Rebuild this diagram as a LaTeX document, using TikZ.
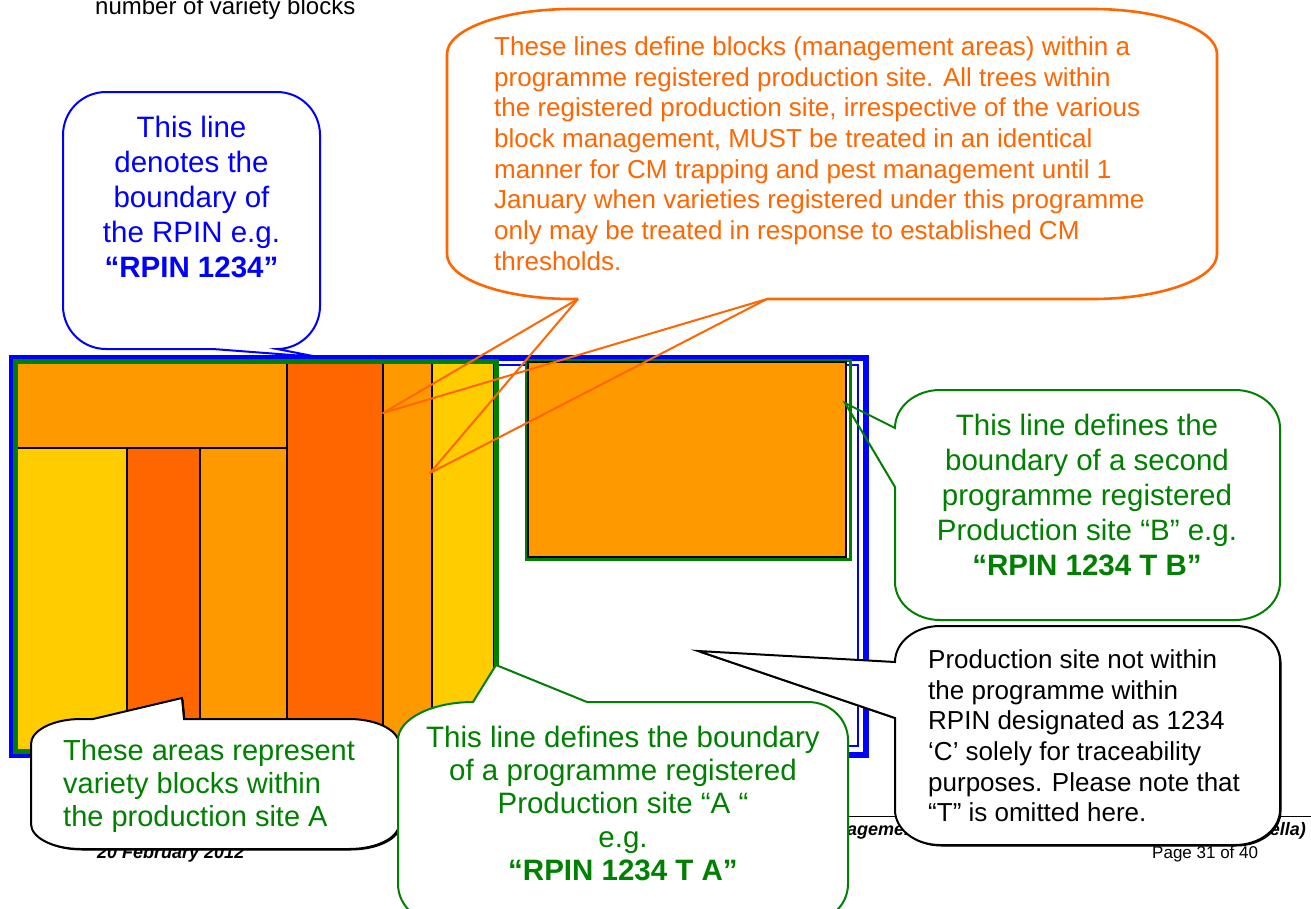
\documentclass[tikz,border=0pt]{standalone}
\usepackage{fontspec}
\setmainfont{Liberation Sans}
\definecolor{cOr}{HTML}{FF9900}
\definecolor{cRd}{HTML}{FF6600}
\definecolor{cYe}{HTML}{FFCC00}
\definecolor{cGn}{HTML}{008000}
\definecolor{cBl}{HTML}{0000FF}
% elliptical corner pieces: from (#1,#2) to (#3,#4)
\newcommand\crnHV[4]{.. controls ({#1+0.5523*(#3-#1)},{#2}) and ({#3},{#4+0.5523*(#2-#4)}) .. ({#3},{#4})}
\newcommand\crnVH[4]{.. controls ({#1},{#2+0.5523*(#4-#2)}) and ({#3+0.5523*(#1-#3)},{#4}) .. ({#3},{#4})}
\begin{document}
\begin{tikzpicture}[x=1pt,y=-1pt,
  blk/.style={draw=black,line width=1.5pt},
  bigtxt/.style={font=\fontsize{29.5}{35}\selectfont,inner sep=0pt},
  midtxt/.style={font=\fontsize{26}{30.7}\selectfont,inner sep=0pt},
  foot/.style={font=\fontsize{18}{21}\selectfont\bfseries\itshape,inner sep=0pt},
  orline/.style={draw=cRd,line width=2.6pt},
  ortail/.style={draw=cRd,line width=2pt,line join=round},
  gnline/.style={draw=cGn,line width=2pt},
  bkline/.style={draw=black,line width=2pt,fill=white},
  blline/.style={draw=cBl,line width=2pt,fill=white}]
\useasboundingbox (0,0) rectangle (1311,908);
\clip (0,0) rectangle (1311,908);
\fill[white] (0,0) rectangle (1311,908);

% title fragment
\node[font=\fontsize{24}{29}\selectfont,anchor=base west,inner sep=0pt] (ttl) at (95,14) {number of variety blocks};

% ---- RPIN frame (thick-thin blue)
\draw[cBl,line width=6pt] (12,358) rectangle (866,755);
\draw[cBl,line width=1.8pt] (21,365) rectangle (858,746);

% ---- site A blocks
\fill[cOr] (16,363) rectangle (287,448);
\fill[cYe] (16,448) rectangle (127,751);
\fill[cRd] (127,448) rectangle (200,751);
\fill[cOr] (200,448) rectangle (287,751);
\fill[cRd] (287,363) rectangle (383,751);
\fill[cOr] (383,363) rectangle (432,751);
\fill[cYe] (432,363) rectangle (494,751);
\draw[blk] (16,448) -- (287,448);
\draw[blk] (127,448) -- (127,751);
\draw[blk] (200,448) -- (200,751);
\draw[blk] (287,363) -- (287,751);
\draw[blk] (383,363) -- (383,751);
\draw[blk] (432,363) -- (432,751);
\draw[blk] (16,363) rectangle (494,751);
% site A boundary
\draw[cGn,line width=5pt] (15,361) rectangle (496,751);

% ---- site B
\draw[cGn,line width=3pt] (526,360) rectangle (850,559);
\draw[blk,fill=cOr] (528,362) rectangle (846,557);

% ---- orange callout (blocks)
\coordinate (obL) at (578,299);
\coordinate (obR) at (767,299);
\coordinate (otip1) at (383,413);
\coordinate (otip2) at (430,473);
\draw[orline] (obL) -- (572,299) \crnHV{572}{299}{447}{254} -- (447,54) \crnVH{447}{54}{572}{9} -- (1092,9) \crnHV{1092}{9}{1217}{54} -- (1217,254) \crnVH{1217}{254}{1092}{299} -- (obR);
\draw[ortail] (obL) -- (otip1) -- (obR);
\draw[ortail] (obL) -- (otip2) -- (obR);
\node[midtxt,text=cRd,anchor=north west,align=left] (otxt) at (494,36.3) {These lines define blocks (management areas) within a\\
programme registered production site. All trees within\\
the registered production site, irrespective of the various\\
block management, MUST be treated in an identical\\
manner for CM trapping and pest management until 1\\
January when varieties registered under this programme\\
only may be treated in response to established CM\\
thresholds.};

% ---- blue callout (RPIN)
\draw[blline] (106,92) -- (277,92) \crnHV{277}{92}{320}{135} -- (320,306) \crnVH{320}{306}{277}{349} -- (318,357) -- (213,349) -- (106,349) \crnHV{106}{349}{63}{306} -- (63,135) \crnVH{63}{135}{106}{92} -- cycle;
\node[bigtxt,text=cBl,anchor=north,align=center] (btxt) at (191.5,115.8) {This line\\ denotes the\\ boundary of\\ the RPIN e.g.\\ \textbf{“RPIN 1234”}};

% ---- green callout B
\draw[gnline] (940,390) -- (1235,390) \crnHV{1235}{390}{1280}{428} -- (1280,582) \crnVH{1280}{582}{1235}{620} -- (940,620) \crnHV{940}{620}{895}{582} -- (895,487) -- (845,403) -- (895,428) \crnVH{895}{428}{940}{390} -- cycle;
\node[bigtxt,text=cGn,anchor=north,align=center] (gbtxt) at (1087,413.8) {This line defines the\\ boundary of a second\\ programme registered\\ Production site “B” e.g.\\ \textbf{“RPIN 1234 T B”}};

% ---- footer
\coordinate (fL) at (95,816.5);
\coordinate (fR) at (1311,816.5);
\draw[black,line width=1.5pt] (fL) -- (fR);
\node[foot,anchor=base west] (fdate) at (97,858) {20 February 2012};
\node[font=\fontsize{17}{20}\selectfont,inner sep=0pt,anchor=base west] (fpage) at (1152,858) {Page 31 of 40};
\node[foot,anchor=base west] (fmid) at (847,835) {agemen};
\node[foot,anchor=base east] (fright) at (1306,835) {ella)};

% ---- black callout C
\def\pathC{(940,626) -- (1235,626) \crnHV{1235}{626}{1280}{661} -- (1280,810) \crnVH{1280}{810}{1235}{845} -- (940,845) \crnHV{940}{845}{895}{810} -- (895,718) -- (698,651) -- (895,662) \crnVH{895}{662}{940}{626} -- cycle}
\fill[black,shift={(1.5,1.5)}] \pathC;
\draw[bkline] \pathC;
\node[midtxt,text=black,anchor=north west,align=left] (ctxt) at (928,649.3) {Production site not within\\ the programme within\\ RPIN designated as 1234\\ ‘C’ solely for traceability\\ purposes. Please note that\\ “T” is omitted here.};

% ---- variety blocks callout
\def\pathV{(31,744) \crnVH{31}{744}{81}{719} -- (93,719) -- (182,698) -- (184,719) -- (349,719) \crnHV{349}{719}{399}{744} -- (399,824) \crnVH{399}{824}{349}{849} -- (81,849) \crnHV{81}{849}{31}{824} -- cycle}
\fill[black,shift={(1.5,1.5)}] \pathV;
\draw[bkline] \pathV;
\node[font=\fontsize{29}{33}\selectfont,inner sep=0pt,text=cGn,anchor=north west,align=left] (vtxt) at (63,739.1) {These areas represent\\ variety blocks within\\ the production site A};

% ---- green callout A
\draw[gnline,fill=white] (398,740) \crnVH{398}{740}{473}{702} -- (496,665) -- (587,702) -- (808,702) \crnHV{808}{702}{848}{740} -- (848,884) \crnVH{848}{884}{808}{922} -- (438,922) \crnHV{438}{922}{398}{884} -- cycle;
\node[font=\fontsize{29.5}{33.3}\selectfont,inner sep=0pt,text=cGn,anchor=north,align=center] (gatxt) at (623,725.8) {This line defines the boundary\\ of a programme registered\\ Production site “A “\\ e.g.\\ \textbf{“RPIN 1234 T A”}};
\end{tikzpicture}
\end{document}
